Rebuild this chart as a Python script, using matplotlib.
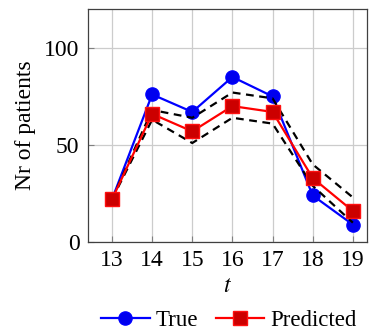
import matplotlib
matplotlib.use("Agg")
import matplotlib.pyplot as plt

t = [13, 14, 15, 16, 17, 18, 19]
true_vals = [22, 76, 67, 85, 75, 24, 9]
pred_vals = [22, 66, 57, 70, 67, 33, 16]
upper_vals = [22, 68, 64, 77, 74, 40, 23]
lower_vals = [22, 63, 51, 64, 61, 29, 10]
yticks = [0, 50, 100]

plt.rcParams['font.family'] = ['Liberation Serif', 'DejaVu Serif']
plt.rcParams['mathtext.fontset'] = 'stix'

fig = plt.figure(figsize=(3.74, 3.33), dpi=100)
ax = fig.add_axes([0.235, 0.273, 0.746, 0.700])

ax.plot(t, true_vals, color='#0000ff', lw=1.6, marker='o', ms=9.5,
        mfc='#0000ee', mec='#0000ff', label='True', zorder=3)
ax.plot(t, upper_vals, color='black', lw=1.6, ls=(0, (3.5, 2.5)), zorder=4)
ax.plot(t, lower_vals, color='black', lw=1.6, ls=(0, (3.5, 2.5)), zorder=4)
ax.plot(t, pred_vals, color='#ff0000', lw=1.6, marker='s', ms=9.5,
        mfc='#cc0000', mec='#ff1010', label='Predicted', zorder=5)

ax.set_xlim(12.4, 19.35)
ax.set_ylim(0, 120)
ax.set_xticks(t)
ax.set_yticks(yticks)
ax.grid(True, color='#cccccc', lw=0.9)
ax.set_axisbelow(True)
ax.tick_params(direction='in', length=4, color='#808080', labelsize=17, pad=6)
for s in ax.spines.values():
    s.set_color('#404040')
    s.set_linewidth(0.9)

ax.set_xlabel('$t$', fontsize=17, labelpad=3)
ax.set_ylabel('Nr of patients', fontsize=17, labelpad=6)

fig.legend(loc='center', bbox_to_anchor=(0.612, 0.038), ncol=2, frameon=False,
           fontsize=16.5, handlelength=2.1, columnspacing=0.8, handletextpad=0.25,
           borderaxespad=0)

fig.savefig('out.png', dpi=100)
